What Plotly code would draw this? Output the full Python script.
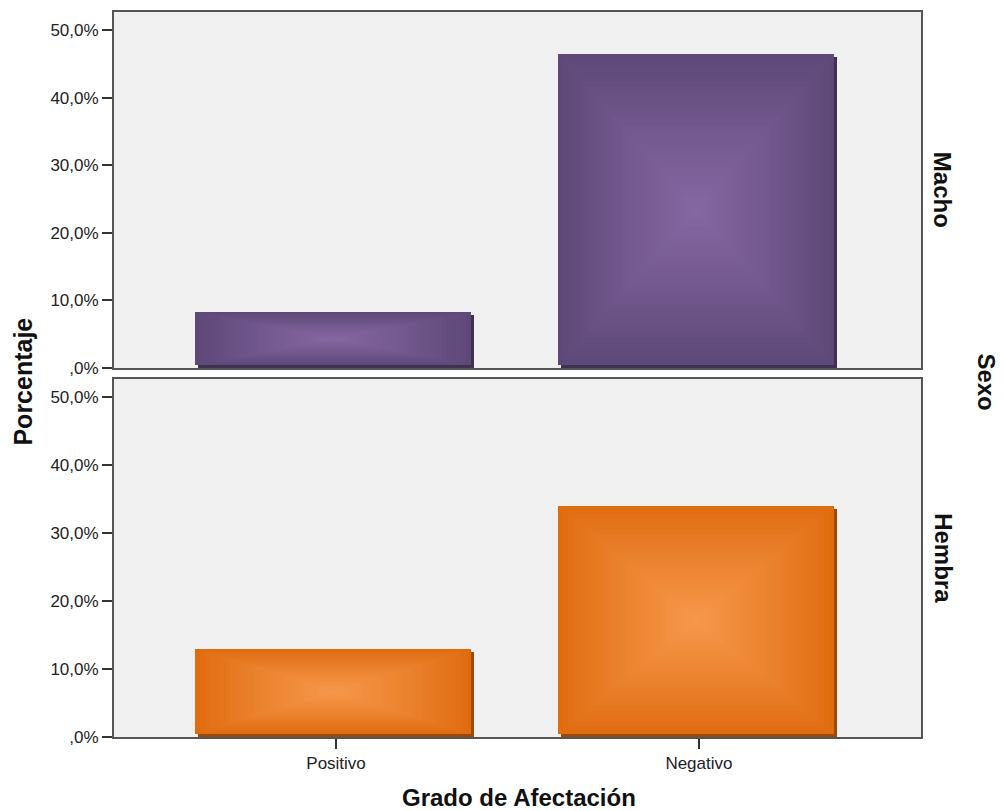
import plotly.graph_objects as go
from plotly.subplots import make_subplots

# ---- data ----
categories = ["Positivo", "Negativo"]
panels = ["Macho", "Hembra"]
macho_pct = [7.8, 46.1]
hembra_pct = [12.5, 33.6]
y_tickvals = [0, 10, 20, 30, 40, 50]
y_ticktext = [",0%", "10,0%", "20,0%", "30,0%", "40,0%", "50,0%"]

# ---- styles ----
FONT = "Liberation Sans, Arial, sans-serif"
styles = {
    "Macho": {"edge": (93, 72, 119), "center": (134, 103, 162), "shadow": "#3f3152"},
    "Hembra": {"edge": (224, 108, 16), "center": (246, 152, 76), "shadow": "#9a4a0a"},
}
BAR_W = 0.76
DX = 0.0083   # ~3px in category units
DY = 0.44     # ~3px in percent units
N_LAYERS = 28

fig = make_subplots(rows=2, cols=1, shared_xaxes=True, vertical_spacing=0.0)
xs = list(range(len(categories)))

def rgb(c):
    return "rgb(%d,%d,%d)" % c

for row, (name, vals) in enumerate(zip(panels, [macho_pct, hembra_pct]), start=1):
    st = styles[name]
    # shadow (true bar)
    fig.add_trace(go.Bar(x=xs, y=vals, base=0, width=BAR_W,
                         marker=dict(color=st["shadow"], line=dict(width=0)),
                         showlegend=False, hoverinfo="skip"), row=row, col=1)
    # face with box gradient made of nested bars
    for k in range(N_LAYERS):
        t = k / N_LAYERS
        f = t ** 0.9
        col = tuple(int(round(st["edge"][i] + (st["center"][i] - st["edge"][i]) * f)) for i in range(3))
        heights = [v * (1 - t) for v in vals]
        bases = [DY + v * t / 2 for v in vals]
        fig.add_trace(go.Bar(x=[x - DX for x in xs], y=heights, base=bases,
                             width=BAR_W * (1 - t),
                             marker=dict(color=rgb(col), line=dict(width=0)),
                             showlegend=False, hoverinfo="skip"), row=row, col=1)

fig.update_layout(
    barmode="overlay",
    width=1004, height=811,
    margin=dict(l=114, r=83, t=10, b=74),
    paper_bgcolor="white",
    plot_bgcolor="#f0f0f0",
    font=dict(family=FONT, color="#222", size=17),
    bargap=0,
)

fig.update_layout(
    yaxis=dict(domain=[0.509, 1.0]),
    yaxis2=dict(domain=[0.0, 0.4938]),
)

for r in (1, 2):
    fig.update_yaxes(range=[0, 52.7], tickvals=y_tickvals, ticktext=y_ticktext,
                     ticks="outside", ticklen=10, tickcolor="#333", tickwidth=2,
                     showgrid=False, zeroline=False,
                     showline=True, linecolor="#555", linewidth=2, mirror=True,
                     tickfont=dict(size=17, color="#222", family=FONT), row=r, col=1)
    fig.update_xaxes(range=[-0.612, 1.612], showgrid=False, zeroline=False,
                     showline=True, linecolor="#555", linewidth=2, mirror=True,
                     row=r, col=1)

fig.update_xaxes(tickvals=xs, ticktext=categories, ticks="outside", ticklen=10,
                 tickcolor="#333", tickwidth=2, showticklabels=True,
                 tickfont=dict(size=17, color="#222", family=FONT), row=2, col=1)
fig.update_xaxes(ticks="", showticklabels=False, row=1, col=1)

title_font = dict(family=FONT, size=24, color="#111")
fig.add_annotation(text="<b>Porcentaje</b>", xref="paper", yref="paper",
                   x=-0.113, y=0.49, textangle=-90, showarrow=False,
                   font=dict(family=FONT, size=25, color="#111"),
                   xanchor="center", yanchor="middle")
fig.add_annotation(text="<b>Grado de Afectación</b>", xref="paper", yref="paper",
                   x=0.502, y=-0.083, showarrow=False, font=title_font,
                   xanchor="center", yanchor="middle")
fig.add_annotation(text="<b>Sexo</b>", xref="paper", yref="paper",
                   x=1.081, y=0.49, textangle=90, showarrow=False,
                   font=title_font, xanchor="center", yanchor="middle")
fig.add_annotation(text="<b>Macho</b>", xref="paper", yref="paper",
                   x=1.027, y=0.755, textangle=90, showarrow=False,
                   font=title_font, xanchor="center", yanchor="middle")
fig.add_annotation(text="<b>Hembra</b>", xref="paper", yref="paper",
                   x=1.027, y=0.247, textangle=90, showarrow=False,
                   font=title_font, xanchor="center", yanchor="middle")

fig.write_html("out.html")
